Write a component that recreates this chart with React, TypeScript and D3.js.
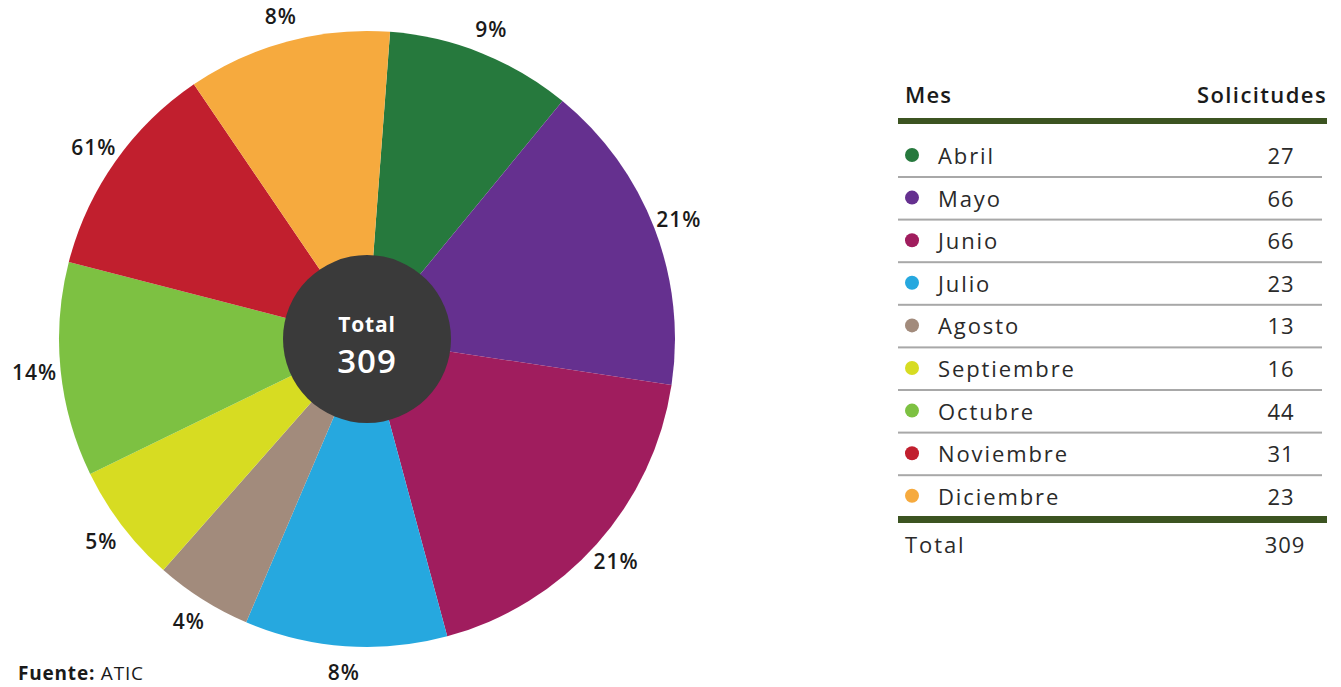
import React from "react";
import * as d3 from "d3";

const months = ["Abril", "Mayo", "Junio", "Julio", "Agosto", "Septiembre", "Octubre", "Noviembre", "Diciembre"];
const requests = [27, 66, 66, 23, 13, 16, 44, 31, 23];
// slice sizes as drawn in the picture (degrees of arc)
const sliceDegrees = [35.1, 59.2, 66.3, 38.2, 18.3, 22.6, 40.5, 41.3, 38.5];
const sliceLabels = ["9%", "21%", "21%", "8%", "4%", "5%", "14%", "61%", "8%"];
const colors = ["#26793d", "#65308f", "#a01d5e", "#26a8df", "#a28b7c", "#d7dc22", "#7dc142", "#c11f2e", "#f6aa3e"];
const total = 309;

const W = 1341;
const H = 687;
const FONT = "'Open Sans', 'Noto Sans', sans-serif";

export default function App() {
  const cx = 367;
  const cy = 339;
  const R = 308;
  const start = (4.3 * Math.PI) / 180;

  const pie = d3
    .pie<number>()
    .sort(null)
    .value((d) => d)
    .startAngle(start)
    .endAngle(start + 2 * Math.PI);
  const arcs = pie(sliceDegrees);
  const arc = d3.arc<d3.PieArcDatum<number>>().innerRadius(0).outerRadius(R);
  const labelArc = d3.arc<d3.PieArcDatum<number>>().innerRadius(334).outerRadius(334);

  // table
  const tLeft = 898;
  const tRight = 1327;
  const rowY = d3.scaleLinear().domain([0, 1]).range([155, 197.6]);
  const valueX = 1281;

  return (
    <svg
      width={W}
      height={H}
      style={{ position: "absolute", left: 0, top: 0, background: "#ffffff" }}
      fontFamily={FONT}
    >
      <rect x={0} y={0} width={W} height={H} fill="#ffffff" />
      <g transform={`translate(${cx},${cy})`}>
        {arcs.map((a, i) => (
          <path key={months[i]} d={arc(a) || ""} fill={colors[i]} />
        ))}
        {arcs.map((a, i) => {
          const [x, y] = labelArc.centroid(a);
          return (
            <text
              key={"l" + i}
              x={x}
              y={y}
              textAnchor="middle"
              dominantBaseline="central"
              fontSize={21}
              fontWeight={600}
              letterSpacing={1}
              fill="#1a1a1a"
            >
              {sliceLabels[i]}
            </text>
          );
        })}
        <circle r={84} fill="#3a3a3a" />
        <text y={-15} textAnchor="middle" dominantBaseline="central" fill="#ffffff" fontSize={21} fontWeight={700} letterSpacing={0.8}>
          Total
        </text>
        <text y={21} textAnchor="middle" dominantBaseline="central" fill="#ffffff" fontSize={33} fontWeight={600} letterSpacing={1}>
          {total}
        </text>
      </g>

      {/* table */}
      <text x={905} y={94} dominantBaseline="central" fontSize={22} fontWeight={600} fill="#1a1a1a" letterSpacing={1.2}>
        Mes
      </text>
      <text x={tRight} y={94} textAnchor="end" dominantBaseline="central" fontSize={22} fontWeight={600} fill="#1a1a1a" letterSpacing={1.4}>
        Solicitudes
      </text>
      <rect x={tLeft} y={118} width={tRight - tLeft} height={6} fill="#3c5421" />
      {months.map((m, i) => {
        const y = rowY(i);
        return (
          <g key={m}>
            <circle cx={912} cy={y} r={7} fill={colors[i]} />
            <text x={938} y={y} dominantBaseline="central" fontSize={22} fill="#2a2a2a" letterSpacing={1.9}>
              {m}
            </text>
            <text x={valueX} y={y} textAnchor="middle" dominantBaseline="central" fontSize={22} fill="#2a2a2a" letterSpacing={1}>
              {requests[i]}
            </text>
            {i < months.length - 1 && (
              <rect x={tLeft} y={y + 21} width={1322 - tLeft} height={2} fill="#a8a8a8" />
            )}
          </g>
        );
      })}
      <rect x={tLeft} y={516} width={tRight - tLeft} height={7} fill="#3c5421" />
      <text x={905} y={544} dominantBaseline="central" fontSize={22} fill="#2a2a2a" letterSpacing={1.9}>
        Total
      </text>
      <text x={valueX + 4} y={544} textAnchor="middle" dominantBaseline="central" fontSize={22} fill="#2a2a2a" letterSpacing={1}>
        {total}
      </text>

      <text x={18} y={680} fontSize={19} fill="#1a1a1a" letterSpacing={0.8}>
        <tspan fontWeight={700}>Fuente:</tspan>
        <tspan> ATIC</tspan>
      </text>
    </svg>
  );
}
